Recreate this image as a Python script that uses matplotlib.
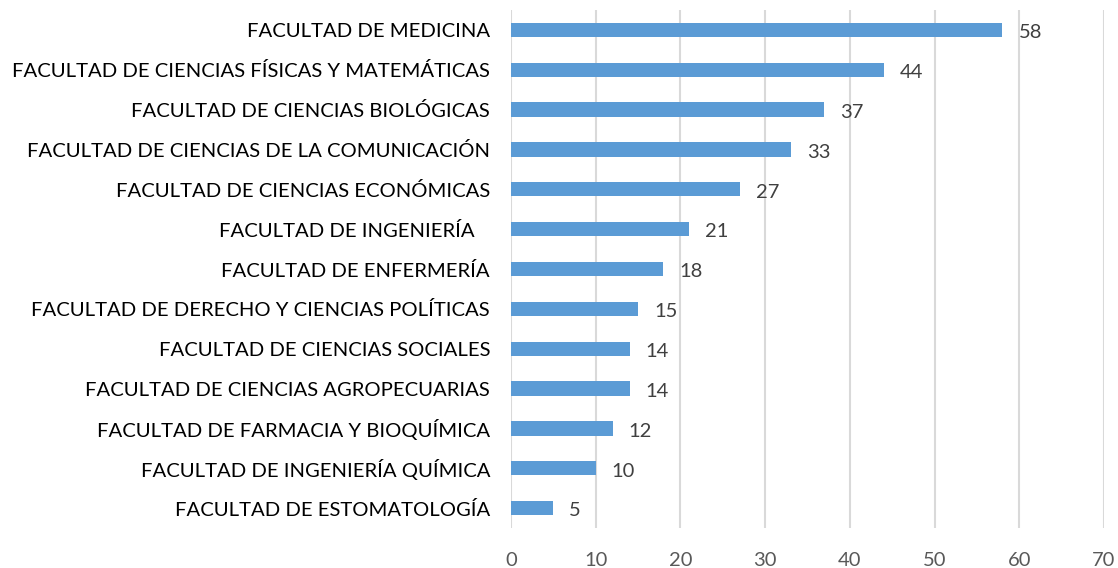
import matplotlib
matplotlib.use('Agg')
import matplotlib.pyplot as plt

plt.rcParams['font.family'] = ['Lato', 'DejaVu Sans']

# data (top to bottom as shown)
facultades = ['FACULTAD DE MEDICINA',
              'FACULTAD DE CIENCIAS FÍSICAS Y MATEMÁTICAS',
              'FACULTAD DE CIENCIAS BIOLÓGICAS',
              'FACULTAD DE CIENCIAS DE LA COMUNICACIÓN',
              'FACULTAD DE CIENCIAS ECONÓMICAS',
              'FACULTAD DE INGENIERÍA   ',
              'FACULTAD DE ENFERMERÍA',
              'FACULTAD DE DERECHO Y CIENCIAS POLÍTICAS',
              'FACULTAD DE CIENCIAS SOCIALES',
              'FACULTAD DE CIENCIAS AGROPECUARIAS',
              'FACULTAD DE FARMACIA Y BIOQUÍMICA',
              'FACULTAD DE INGENIERÍA QUÍMICA',
              'FACULTAD DE ESTOMATOLOGÍA']
valores = [58, 44, 37, 33, 27, 21, 18, 15, 14, 14, 12, 10, 5]
xticks = [0, 10, 20, 30, 40, 50, 60, 70]

fig = plt.figure(figsize=(11.18, 5.68), dpi=100)
ax = fig.add_axes([0.457, 0.0704, 0.5305, 0.912])

pos = list(range(len(facultades)))[::-1]
bars = ax.barh(pos, valores, height=0.36, color='#5B9BD5', zorder=3)
# etiquetas de valor
for p, v in zip(pos, valores):
    ax.text(v + 1.9, p - 0.07, str(v), va='center', ha='left',
            fontsize=14.5, color='#404040')

ax.set_xlim(0, 70)
ax.set_ylim(-0.5, len(facultades) - 0.5)
ax.set_xticks(xticks)
ax.set_yticks(pos)
ax.set_yticklabels(facultades, fontsize=14.6, color='black')
ax.tick_params(axis='x', labelsize=14.5, labelcolor='#595959', length=0, pad=17)
ax.tick_params(axis='y', length=0, pad=15)
ax.grid(axis='x', color='#D9D9D9', linewidth=1.5, zorder=0)
for s in ax.spines.values():
    s.set_visible(False)

fig.savefig('out.png', dpi=100)
